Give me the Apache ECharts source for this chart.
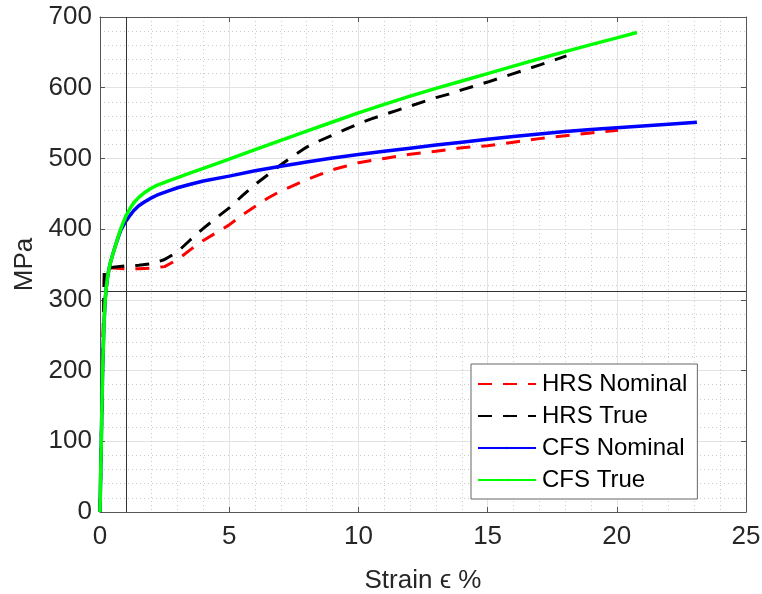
<!DOCTYPE html>
<html>
<head>
<meta charset="utf-8">
<script src="https://cdn.jsdelivr.net/npm/echarts@6/dist/echarts.min.js"></script>
<style>html,body{margin:0;padding:0;background:#fff}#c{width:762px;height:594px}</style>
</head>
<body>
<div id="c"></div>
<script>
// Data (strain %, stress MPa)
const hrsNominal = [[0,0],[0.17,345],[0.5,345],[1,344],[1.5,344],[2,345],[2.5,347],[3,357],[3.5,371],[4,384],[4.5,395],[5,406],[5.5,420],[6,432],[6.5,444],[7,454],[7.5,462],[8,470],[8.5,477],[9,484],[9.5,489],[10,494],[11,500],[12,506],[13,510],[14,515],[15,518],[16,523],[17,528],[18,532],[19,536],[20.05,540]];
const hrsTrue = [[0,0],[0.17,345],[0.5,346],[1,348],[1.5,349],[2,351],[2.5,357],[3,368],[3.5,385],[4,401],[4.5,416],[5,430],[5.5,447],[6,463],[6.5,477],[7,491],[7.5,504],[8,516],[8.5,525],[9,533],[9.5,541],[10,549],[10.5,556],[11,562],[11.5,568],[12,574],[12.5,580],[13,586],[13.5,591],[14,597],[15,608],[16,620],[17,632],[17.5,638],[18.05,645]];
const cfsNominal = [[0,0],[0.05,100],[0.1,200],[0.15,262],[0.2,300],[0.25,320],[0.3,334],[0.35,344],[0.4,352],[0.5,365],[0.6,377],[0.7,388],[0.8,398],[0.9,405],[1.0,411],[1.15,419],[1.3,426],[1.5,433],[1.7,438],[1.95,443.5],[2.2,448],[2.6,453.5],[3,458.5],[3.5,463.5],[4,468],[5,475],[6,482.5],[7,489],[8,495],[9,500.5],[10,505.5],[11,510],[12,514.5],[13,519],[14,523],[15,527],[16,531],[17,534.5],[18,538],[19,541],[20,543.5],[21,546],[22,548.5],[23.1,551]];
const cfsTrue = [[0,0],[0.05,100],[0.1,200],[0.15,262],[0.2,300],[0.25,320],[0.3,334],[0.35,344],[0.4,352],[0.5,365],[0.6,377],[0.7,389],[0.8,400],[0.9,409.5],[1.0,418.5],[1.15,428.5],[1.3,437],[1.5,445],[1.7,451],[1.95,457],[2.2,462],[2.6,467.5],[3,473],[3.5,479.5],[4,486],[5,499],[6,512.5],[7,525.5],[8,538.5],[9,551.5],[10,564.5],[11,576.5],[12,588],[13,599],[14,609.5],[15,620],[16,630.5],[17,641],[18,651],[19,661],[20,670.5],[20.78,678]];
const seriesNames = ['HRS Nominal','HRS True','CFS Nominal','CFS True'];
const refX = [1];
const refY = [312];
const xTicks = {min:0, max:25, interval:5};
const yTicks = {min:0, max:700, interval:100};

const FONT = '"Liberation Sans", Arial, Helvetica, sans-serif';
const TXT = '#262626';
const AX = '#555555';
const chart = echarts.init(document.getElementById('c'), null, {renderer:'canvas'});

function axisCommon(show, margin){
  return {
    axisLine:{show:true, onZero:false, lineStyle:{color:AX, width:1}},
    axisTick:{show:true, inside:true, length:5, lineStyle:{color:AX}},
    axisLabel:{show:show, color:TXT, fontFamily:FONT, fontSize:26, margin:margin},
  };
}
const option = {
  backgroundColor:'#fff',
  animation:false,
  grid:{left:100, right:16, top:17, bottom:82, outerBoundsMode:'none', containLabel:false},
  legend:{
    data:seriesNames, orient:'vertical', left:471, top:364,
    backgroundColor:'#fff', borderColor:'#666', borderWidth:1,
    padding:[8,10,7,6], itemWidth:58, itemHeight:3, itemGap:8,
    textStyle:{color:'#000', fontFamily:FONT, fontSize:24, lineHeight:24, padding:[0,0,0,1]}
  },
  xAxis:[
    Object.assign({type:'value', position:'bottom', min:xTicks.min, max:xTicks.max, interval:xTicks.interval,
      name:'Strain \u03f5 %', nameLocation:'middle', nameGap:56,
      nameTextStyle:{color:TXT, fontFamily:FONT, fontSize:26},
      splitLine:{show:true, lineStyle:{color:'#e3e3e3', width:1}},
      minorTick:{show:false, splitNumber:5},
      minorSplitLine:{show:true, lineStyle:{color:'#cccccc', type:[1,3], width:1}}
    }, axisCommon(true, 12)),
    Object.assign({type:'value', position:'top', min:xTicks.min, max:xTicks.max, interval:xTicks.interval,
      splitLine:{show:false}}, axisCommon(false, 8))
  ],
  yAxis:[
    Object.assign({type:'value', position:'left', min:yTicks.min, max:yTicks.max, interval:yTicks.interval,
      name:'MPa', nameLocation:'middle', nameGap:56,
      nameTextStyle:{color:TXT, fontFamily:FONT, fontSize:26},
      splitLine:{show:true, lineStyle:{color:'#e3e3e3', width:1}},
      minorTick:{show:false, splitNumber:5},
      minorSplitLine:{show:true, lineStyle:{color:'#cccccc', type:[1,3], width:1}}
    }, axisCommon(true, 8)),
    Object.assign({type:'value', position:'right', min:yTicks.min, max:yTicks.max, interval:yTicks.interval,
      splitLine:{show:false}}, axisCommon(false, 8))
  ],
  series:[
    {name:seriesNames[0], type:'line', data:hrsNominal, showSymbol:false, symbol:'none', smooth:false,
      lineStyle:{color:'#ff0000', width:3, type:[14,11], cap:'butt', join:'round'}, itemStyle:{color:'#ff0000'}, z:2,
      markLine:{silent:true, symbol:'none', label:{show:false}, animation:false,
        lineStyle:{color:'#333', width:1, type:'solid'},
        data:refX.map(v=>({xAxis:v})).concat(refY.map(v=>({yAxis:v})))}},
    {name:seriesNames[1], type:'line', data:hrsTrue, showSymbol:false, symbol:'none', smooth:false,
      lineStyle:{color:'#000000', width:3, type:[14,11], cap:'butt', join:'round'}, itemStyle:{color:'#000000'}, z:3},
    {name:seriesNames[2], type:'line', data:cfsNominal, showSymbol:false, symbol:'none', smooth:false,
      lineStyle:{color:'#0000ff', width:3.5, join:'round'}, itemStyle:{color:'#0000ff'}, z:4},
    {name:seriesNames[3], type:'line', data:cfsTrue, showSymbol:false, symbol:'none', smooth:false,
      lineStyle:{color:'#00ff00', width:3.5, join:'round'}, itemStyle:{color:'#00ff00'}, z:5}
  ]
};
chart.setOption(option);
</script>
</body>
</html>
